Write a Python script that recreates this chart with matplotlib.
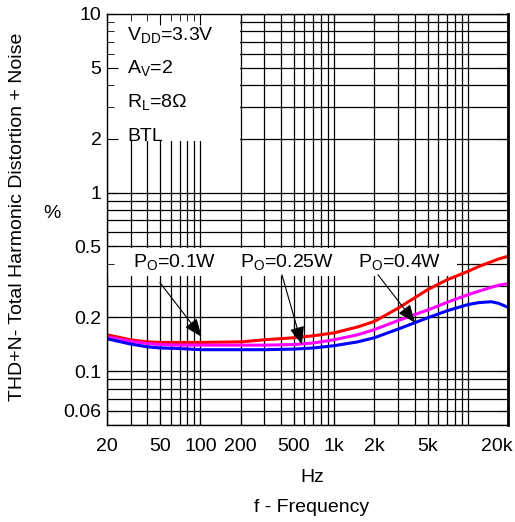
import matplotlib
matplotlib.use("Agg")
import matplotlib.pyplot as plt
from matplotlib.patches import Rectangle
from matplotlib.ticker import NullFormatter
from matplotlib.transforms import ScaledTranslation

plt.rcParams["font.family"] = ["Liberation Sans", "DejaVu Sans"]
plt.rcParams["mathtext.fontset"] = "custom"
plt.rcParams["mathtext.rm"] = "Liberation Sans"

# frequency points (Hz) and THD+N (%)
freq = [20, 30, 40, 50, 70, 100, 200, 300, 500, 700, 1000, 1500, 2000, 3000,
        5000, 7000, 10000, 12000, 15000, 17000, 20000]
thd_01w = [0.160, 0.150, 0.146, 0.145, 0.145, 0.145, 0.146, 0.150, 0.154, 0.158,
           0.164, 0.177, 0.190, 0.225, 0.286, 0.325, 0.362, 0.385, 0.410, 0.425, 0.440]
thd_025w = [0.156, 0.147, 0.143, 0.141, 0.140, 0.140, 0.140, 0.140, 0.141, 0.144,
            0.150, 0.160, 0.171, 0.192, 0.220, 0.243, 0.268, 0.280, 0.295, 0.303, 0.309]
thd_04w = [0.152, 0.142, 0.137, 0.135, 0.134, 0.132, 0.132, 0.132, 0.133, 0.135,
           0.139, 0.146, 0.154, 0.172, 0.199, 0.218, 0.236, 0.242, 0.245, 0.240, 0.228]

xticks = [20, 50, 100, 200, 500, 1000, 2000, 5000, 20000]
xticklabels = ["20", "50", "100", "200", "500", "1k", "2k", "5k", "20k"]
yticks = [0.06, 0.1, 0.2, 0.5, 1, 2, 5, 10]
yticklabels = ["0.06", "0.1", "0.2", "0.5", "1", "2", "5", "10"]

fig = plt.figure(figsize=(5.15, 5.22), dpi=100)
ax = fig.add_axes([0.2078, 0.1858, 0.7786, 0.7874])
ax.set_xscale("log")
ax.set_yscale("log")
ax.set_xlim(20, 20000)
ax.set_ylim(0.05, 10)

# grid drawn by hand so the white label boxes can hide it but not the ticks
gx = [m * 10 ** e for e in range(1, 5) for m in range(1, 10) if 20 <= m * 10 ** e <= 20000]
gy = [m * 10.0 ** e for e in range(-2, 2) for m in range(1, 10) if 0.05 <= m * 10.0 ** e <= 10]
ax.vlines(gx, 0.05, 10, color="black", lw=0.9, zorder=0.8)
ax.hlines(gy, 20, 20000, color="black", lw=0.9, zorder=0.8)

# white boxes behind the annotations
ax.add_patch(Rectangle((0, 0.691), 0.332, 0.309, transform=ax.transAxes,
                       facecolor="white", edgecolor="none", zorder=1))
ax.add_patch(Rectangle((0, 0.3625), 0.873, 0.068, transform=ax.transAxes,
                       facecolor="white", edgecolor="none", zorder=1))

ax.plot(freq, thd_01w, color="#ff0000", lw=2.2, zorder=2)
ax.plot(freq, thd_025w, color="#ff00ff", lw=2.2, zorder=2)
ax.plot(freq, thd_04w, color="#0000ff", lw=2.2, zorder=2)

ax.set_xticks(xticks)
ax.set_xticklabels(xticklabels)
ax.set_yticks(yticks)
ax.set_yticklabels(yticklabels)
ax.minorticks_on()
ax.xaxis.set_minor_formatter(NullFormatter())
ax.yaxis.set_minor_formatter(NullFormatter())
ax.tick_params(which="both", direction="in", top=True, right=True, labelsize=14)
ax.tick_params(which="major", length=8)
ax.tick_params(which="minor", length=5)
ax.tick_params(axis="x", pad=9)
ax.tick_params(axis="y", pad=4)
# last x label sits left of its tick, as in the reference
last = ax.get_xticklabels()[-1]
last.set_transform(last.get_transform() + ScaledTranslation(-0.11, 0, fig.dpi_scale_trans))
for s in ax.spines.values():
    s.set_linewidth(1.0)
ax.spines["right"].set_linewidth(2.0)

# condition block
conds = [r"V$_{\rm DD}$=3.3V", r"A$_{\rm V}$=2", r"R$_{\rm L}$=8$\Omega$", "BTL"]
for i, c in enumerate(conds):
    ax.text(0.05, 0.948 - i * 0.082, c, transform=ax.transAxes, fontsize=14,
            va="center", ha="left", zorder=3)

# curve labels with arrows
labels = [r"P$_{\rm O}$=0.1W", r"P$_{\rm O}$=0.25W", r"P$_{\rm O}$=0.4W"]
label_pos = [(0.065, 0.395), (0.332, 0.395), (0.625, 0.395)]
arrow_tail = [(49.8, 0.313), (407, 0.347), (2128, 0.347)]
arrow_head = [(102, 0.156), (574, 0.141), (4028, 0.187)]
for lab, pos in zip(labels, label_pos):
    ax.text(pos[0], pos[1], lab, transform=ax.transAxes, fontsize=14,
            va="center", ha="left", zorder=3)
for tail, head in zip(arrow_tail, arrow_head):
    ax.annotate("", xy=head, xytext=tail, zorder=3,
                arrowprops=dict(arrowstyle="-|>,head_length=1.1,head_width=0.45",
                                color="black", lw=0.8, shrinkA=0, shrinkB=0))

fig.text(18 / 515, 1 - 217 / 522, "THD+N- Total Harmonic Distortion + Noise",
         rotation=90, fontsize=14, ha="center", va="center")
fig.text(52 / 515, 1 - 214 / 522, "%", fontsize=14, ha="center", va="center")
fig.text(312 / 515, 1 - 478 / 522, "Hz", fontsize=14, ha="center", va="center")
fig.text(312 / 515, 1 - 508 / 522, "f - Frequency", fontsize=14, ha="center", va="center")

fig.savefig("out.png", dpi=100)
